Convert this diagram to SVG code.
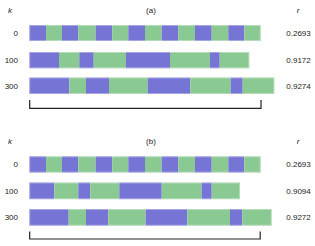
<svg xmlns="http://www.w3.org/2000/svg" width="315" height="246" viewBox="0 0 315 246">
<style>
text{font-family:"Liberation Sans",Arial,sans-serif;font-size:8px;fill:#222}
.it{font-style:italic}
.p{fill:#7674D4}
.g{fill:#8BC993}
.edge{fill:none;stroke:#fff;stroke-opacity:0.35;stroke-width:1}
.br{fill:none;stroke:#222;stroke-width:1.2}
</style>
<rect width="315" height="246" fill="#fff"/>
<!-- Panel a -->
<g id="panel-a-header">
<text class="it" x="8" y="13">k</text>
<text x="151" y="13" text-anchor="middle">(a)</text>
<text class="it" x="298" y="13" text-anchor="middle">r</text>
</g>
<g id="a-row0">
<text x="18" y="36" text-anchor="end">0</text>
<rect class="p" x="29.3" y="25" width="16.7" height="16"/>
<rect class="g" x="46" y="25" width="16" height="16"/>
<rect class="p" x="62" y="25" width="16.3" height="16"/>
<rect class="g" x="78.3" y="25" width="17.4" height="16"/>
<rect class="p" x="95.7" y="25" width="16.6" height="16"/>
<rect class="g" x="112.3" y="25" width="16" height="16"/>
<rect class="p" x="128.3" y="25" width="16.7" height="16"/>
<rect class="g" x="145" y="25" width="16.7" height="16"/>
<rect class="p" x="161.7" y="25" width="16.6" height="16"/>
<rect class="g" x="178.3" y="25" width="16.7" height="16"/>
<rect class="p" x="195" y="25" width="16.7" height="16"/>
<rect class="g" x="211.7" y="25" width="16.6" height="16"/>
<rect class="p" x="228.3" y="25" width="16" height="16"/>
<rect class="g" x="244.3" y="25" width="16.4" height="16"/>
<rect class="edge" x="29.8" y="25.5" width="230.4" height="15"/>
<text x="298.5" y="36" text-anchor="middle">0.2693</text>
</g>
<g id="a-row1">
<text x="18" y="63" text-anchor="end">100</text>
<rect class="p" x="29.3" y="52" width="29.7" height="16.3"/>
<rect class="g" x="59" y="52" width="20.3" height="16.3"/>
<rect class="p" x="79.3" y="52" width="14.4" height="16.3"/>
<rect class="g" x="93.7" y="52" width="32.3" height="16.3"/>
<rect class="p" x="126" y="52" width="44" height="16.3"/>
<rect class="g" x="170" y="52" width="40" height="16.3"/>
<rect class="p" x="210" y="52" width="9.7" height="16.3"/>
<rect class="g" x="219.7" y="52" width="29.6" height="16.3"/>
<rect class="edge" x="29.8" y="52.5" width="219" height="15.3"/>
<text x="298.5" y="63" text-anchor="middle">0.9172</text>
</g>
<g id="a-row2">
<text x="18" y="89" text-anchor="end">300</text>
<rect class="p" x="29.3" y="77.5" width="40" height="16.5"/>
<rect class="g" x="69.3" y="77.5" width="16.7" height="16.5"/>
<rect class="p" x="86" y="77.5" width="23" height="16.5"/>
<rect class="g" x="109" y="77.5" width="38.7" height="16.5"/>
<rect class="p" x="147.7" y="77.5" width="42.6" height="16.5"/>
<rect class="g" x="190.3" y="77.5" width="40.4" height="16.5"/>
<rect class="p" x="230.7" y="77.5" width="12" height="16.5"/>
<rect class="g" x="242.7" y="77.5" width="31.6" height="16.5"/>
<rect class="edge" x="29.8" y="78" width="244" height="15.5"/>
<text x="298.5" y="89" text-anchor="middle">0.9274</text>
</g>
<!-- Panel b -->
<g id="panel-b-header">
<text class="it" x="8" y="144">k</text>
<text x="151" y="144" text-anchor="middle">(b)</text>
<text class="it" x="298" y="144" text-anchor="middle">r</text>
</g>
<g id="b-row0">
<text x="18" y="167" text-anchor="end">0</text>
<rect class="p" x="29.3" y="156.3" width="16.7" height="16.3"/>
<rect class="g" x="46" y="156.3" width="16" height="16.3"/>
<rect class="p" x="62" y="156.3" width="16.3" height="16.3"/>
<rect class="g" x="78.3" y="156.3" width="17.4" height="16.3"/>
<rect class="p" x="95.7" y="156.3" width="16.6" height="16.3"/>
<rect class="g" x="112.3" y="156.3" width="16" height="16.3"/>
<rect class="p" x="128.3" y="156.3" width="16.7" height="16.3"/>
<rect class="g" x="145" y="156.3" width="16.7" height="16.3"/>
<rect class="p" x="161.7" y="156.3" width="16.6" height="16.3"/>
<rect class="g" x="178.3" y="156.3" width="16.7" height="16.3"/>
<rect class="p" x="195" y="156.3" width="16.7" height="16.3"/>
<rect class="g" x="211.7" y="156.3" width="16.6" height="16.3"/>
<rect class="p" x="228.3" y="156.3" width="16" height="16.3"/>
<rect class="g" x="244.3" y="156.3" width="16.4" height="16.3"/>
<rect class="edge" x="29.8" y="156.8" width="230.4" height="15.3"/>
<text x="298.5" y="167.3" text-anchor="middle">0.2693</text>
</g>
<g id="b-row1">
<text x="18" y="193.8" text-anchor="end">100</text>
<rect class="p" x="29.3" y="182.5" width="25" height="16.7"/>
<rect class="g" x="54.3" y="182.5" width="24" height="16.7"/>
<rect class="p" x="78.3" y="182.5" width="12" height="16.7"/>
<rect class="g" x="90.3" y="182.5" width="29" height="16.7"/>
<rect class="p" x="119.3" y="182.5" width="42.4" height="16.7"/>
<rect class="g" x="161.7" y="182.5" width="40" height="16.7"/>
<rect class="p" x="201.7" y="182.5" width="10" height="16.7"/>
<rect class="g" x="211.7" y="182.5" width="28.3" height="16.7"/>
<rect class="edge" x="29.8" y="183" width="209.7" height="15.7"/>
<text x="298.5" y="193.8" text-anchor="middle">0.9094</text>
</g>
<g id="b-row2">
<text x="18" y="220.3" text-anchor="end">300</text>
<rect class="p" x="29.3" y="209" width="39.4" height="16.7"/>
<rect class="g" x="68.7" y="209" width="17.3" height="16.7"/>
<rect class="p" x="86" y="209" width="22.3" height="16.7"/>
<rect class="g" x="108.3" y="209" width="37.4" height="16.7"/>
<rect class="p" x="145.7" y="209" width="41.6" height="16.7"/>
<rect class="g" x="187.3" y="209" width="42.7" height="16.7"/>
<rect class="p" x="230" y="209" width="12.3" height="16.7"/>
<rect class="g" x="242.3" y="209" width="29.4" height="16.7"/>
<rect class="edge" x="29.8" y="209.5" width="241.4" height="15.7"/>
<text x="298.5" y="220.3" text-anchor="middle">0.9272</text>
</g>
<g id="brackets">
<path class="br" d="M29.7,100 V108.3 H261 V100"/>
<path class="br" d="M29.7,231.5 V239 H260.2 V231.5"/>
</g>
</svg>
